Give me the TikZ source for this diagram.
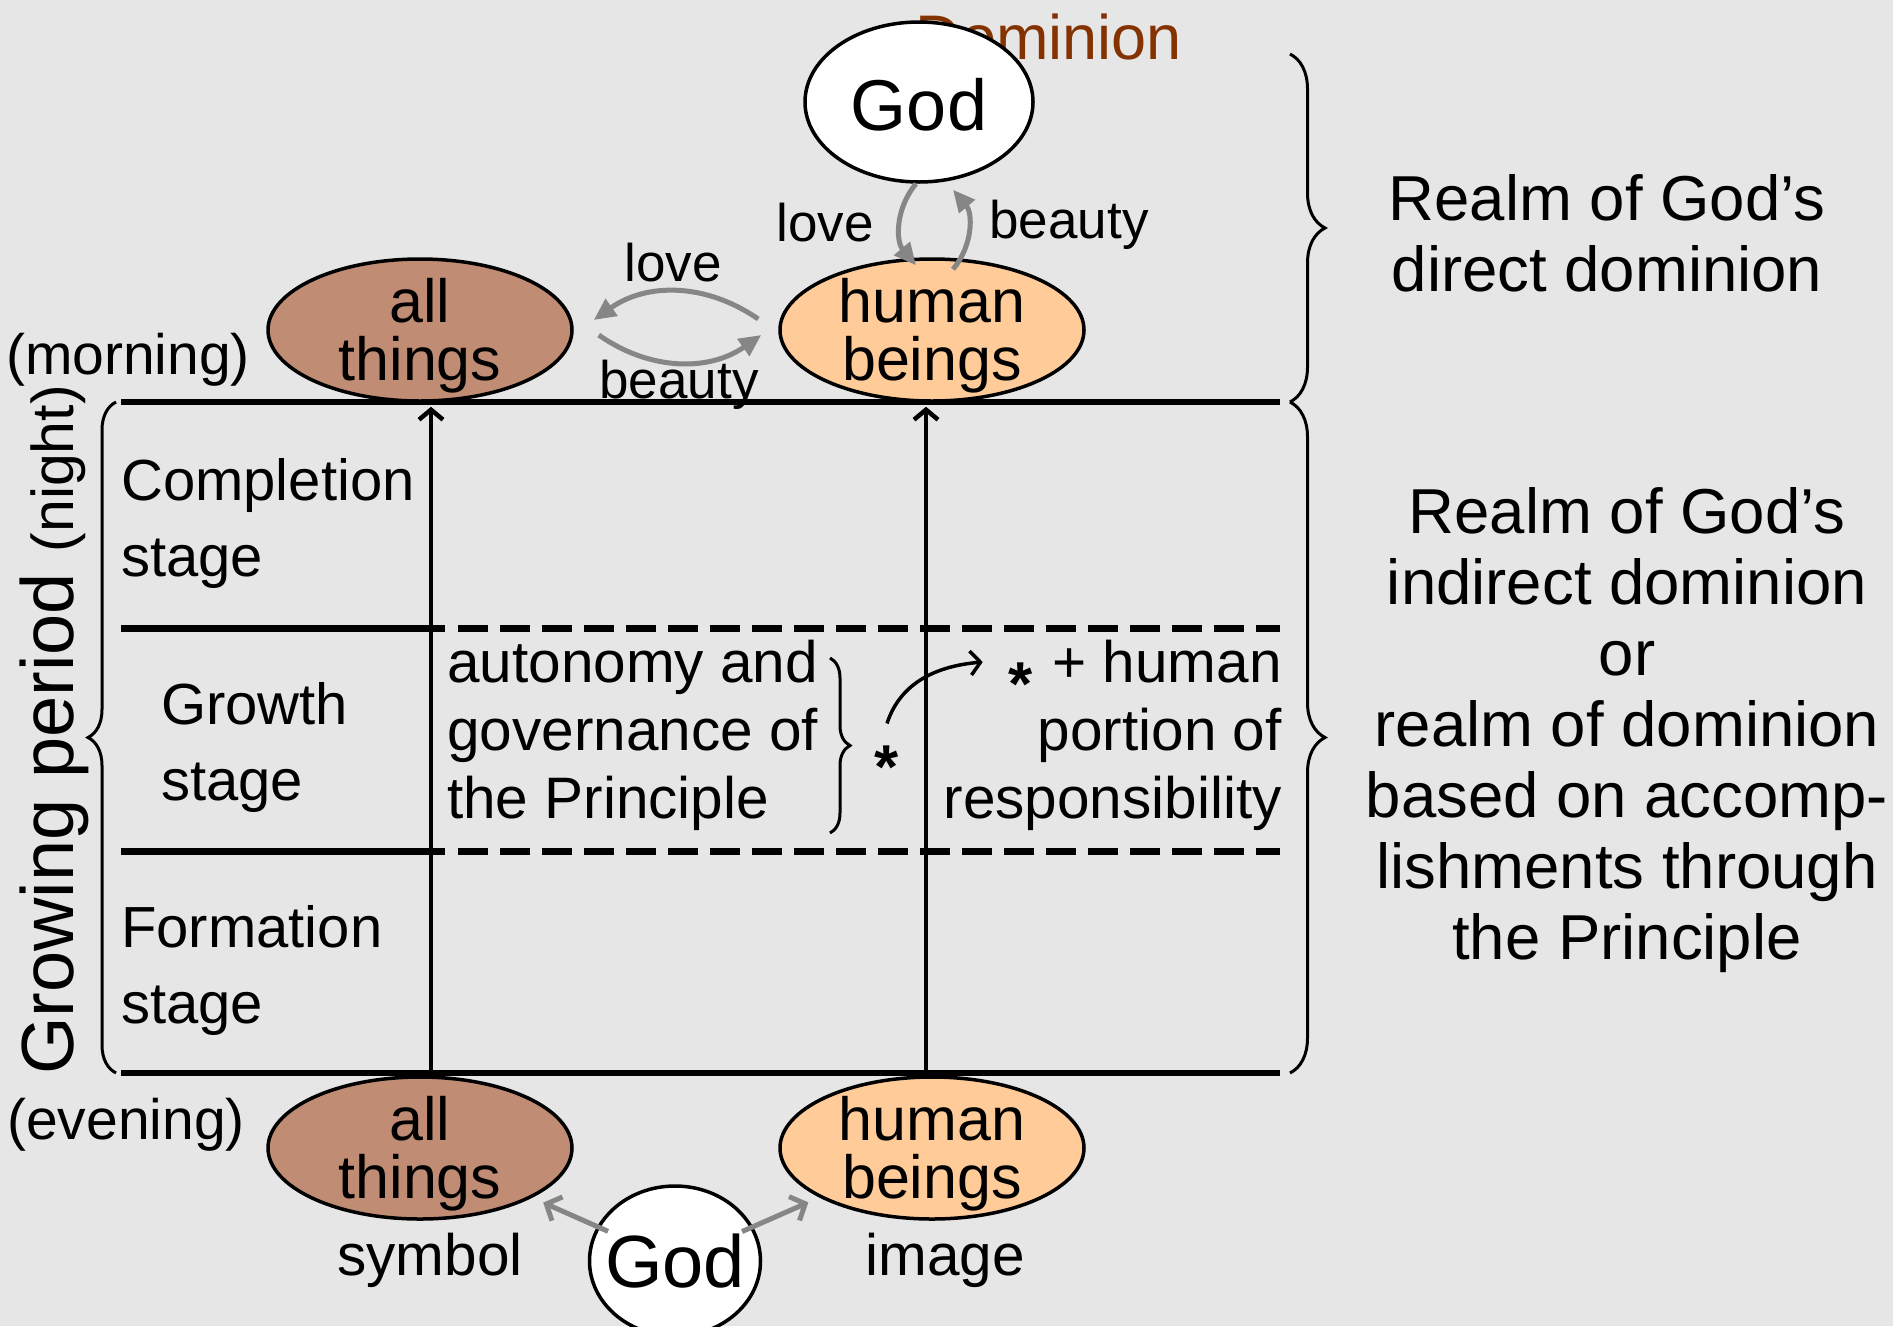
\documentclass[tikz,border=0pt]{standalone}
\usepackage{fontspec}
\setmainfont{Liberation Sans}
\usetikzlibrary{arrows.meta, decorations.pathreplacing, positioning, shapes.geometric}
\definecolor{bggrey}{HTML}{E6E6E6}
\definecolor{thingbrown}{HTML}{C18C74}
\definecolor{humanpeach}{HTML}{FFCC99}
\definecolor{flowgrey}{HTML}{868686}
\definecolor{dombrown}{HTML}{843200}
\newcommand{\setsz}[2]{\fontsize{#1pt}{#2pt}\selectfont}

\begin{document}
\begin{tikzpicture}[x=1pt, y=-1pt,
  blob/.style={ellipse, draw=black, line width=3.5pt, inner sep=0pt, minimum width=304pt, minimum height=142pt},
  blobtext/.style={align=center, inner sep=0pt, font=\setsz{61}{58}},
  godblob/.style={ellipse, draw=black, fill=white, line width=3.5pt, inner sep=0pt},
  flow/.style={line width=5pt, color=flowgrey, -{Triangle[length=22pt,width=20pt]}},
  gift/.style={line width=5pt, color=flowgrey, -{Straight Barb[length=12pt,width=26pt]}, shorten >=12pt, shorten <=-12pt},
  rise/.style={line width=4.5pt, -{Straight Barb[length=10pt,width=24pt]}},
  stageline/.style={line width=7pt},
  stagetext/.style={align=left, anchor=west, inner sep=0pt, font=\setsz{58}{76}},
  midtext/.style={inner sep=0pt, font=\setsz{58.5}{68}},
  starmark/.style={inner sep=0pt, font=\setsz{62}{62}\bfseries},
  realm/.style={align=center, inner sep=0pt, font=\setsz{63.5}{71}},
  small/.style={inner sep=0pt, font=\setsz{53}{60}},
  bigbrace/.style={decorate, decoration={brace, amplitude=#1}, line width=3pt}
]
\useasboundingbox (0,0) rectangle (1893,1326);
\fill[bggrey] (0,0) rectangle (1893,1326);

\draw[stageline, line width=6pt] (121,402) -- (1280,402);
\draw[stageline, line width=6pt] (121,1073) -- (1280,1073);
\draw[stageline] (121,628) -- (445,628);
\draw[stageline, dash pattern=on 30pt off 12pt] (458,628) -- (1280,628);
\draw[stageline] (121,851) -- (445,851);
\draw[stageline, dash pattern=on 30pt off 12pt] (458,851) -- (1280,851);

\node[inner sep=0pt, font=\setsz{63}{70}, text=dombrown] (dom) at (1049,37) {Dominion};
\node[godblob, minimum width=228pt, minimum height=160pt] (god1) at (919,102) {};
\node[inner sep=0pt, font=\setsz{72}{80}] (god1l) at (919,105) {God};

\node[blob, fill=thingbrown] (tat) at (420,330) {};
\node[blobtext] (tatl) at (420,336) {all\\things};
\node[blob, fill=humanpeach] (thb) at (932,330) {};
\node[blobtext] (thbl) at (932,336) {human\\beings};

\node[blob, fill=thingbrown] (bat) at (420,1148) {};
\node[blobtext] (batl) at (420,1154) {all\\things};
\node[blob, fill=humanpeach] (bhb) at (932,1148) {};
\node[blobtext] (bhbl) at (932,1154) {human\\beings};

\node[godblob, minimum width=171pt, minimum height=150pt] (god2) at (675,1261) {};
\node[inner sep=0pt, font=\setsz{74}{80}] (god2l) at (675,1261) {God};

\draw[flow] ([xshift=-3pt]god1.south) to[bend right=40] ([xshift=-16pt,yshift=-8pt]thb.north);
\draw[flow] ([xshift=21pt,yshift=-12pt]thb.north) to[bend right=40] ([xshift=34pt,yshift=-6pt]god1.south);
\draw[flow] ([xshift=-20pt,yshift=11pt]thb.west) to[bend right=35] ([xshift=20pt,yshift=10pt]tat.east);
\draw[flow] ([xshift=25pt,yshift=-5pt]tat.east) to[bend right=35] ([xshift=-17pt,yshift=-5pt]thb.west);
\node[small] (love1) at (825,223) {love};
\node[small] (beauty1) at (1069,225) {beauty};
\node[small] (love2) at (673,263) {love};
\node[small] (beauty2) at (679,385) {beauty};

\draw[gift] (god2) -- (bat);
\draw[gift] (god2) -- (bhb);
\node[midtext] (symbol) at (430,1260) {symbol};
\node[midtext] (image) at (945,1260) {image};

\draw[rise] ([xshift=11pt]bat.north) -- ([xshift=11pt,yshift=-4pt]tat.south);
\draw[rise] ([xshift=-6pt]bhb.north) -- ([xshift=-6pt,yshift=-4pt]thb.south);

\node[midtext, font=\setsz{57}{60}] (morning) at (128,360) {(morning)};
\node[midtext, font=\setsz{57}{60}] (evening) at (126,1125) {(evening)};
\node[inner sep=0pt, rotate=90] (growing) at (54,730) {\setsz{74}{80}Growing period \setsz{59}{60}(night)};
\draw[bigbrace=28pt] (116,1073) -- (116,402);

\node[stagetext] (completion) at (121,523) {Completion\\stage};
\node[stagetext] (growth) at (161,747) {Growth\\stage};
\node[stagetext] (formation) at (121,970) {Formation\\stage};

\node[midtext, align=left, anchor=west] (autonomy) at (447,735) {autonomy and\\governance of\\the Principle};
\draw[bigbrace=20pt] (830,658) -- (830,833);
\node[starmark] (star) at (887,767) {*};
\node[midtext, align=right, anchor=east] (portion) at (1282,735) {+ human\\portion of\\responsibility};
\node[starmark] (starb) at (1021,684) {*};
\draw[rise, line width=3.5pt] ([yshift=22pt]star.north) to[out=72,in=185] ([xshift=-26pt,yshift=22pt]starb.west);

\draw[bigbrace=35pt] (1290,54) -- (1290,402);
\draw[bigbrace=35pt] (1290,402) -- (1290,1073);
\node[realm] (direct) at (1607,233) {Realm of God’s\\direct dominion};
\node[realm] (indirect) at (1627,730) {Realm of God’s\\indirect dominion\\or\\realm of dominion\\based on accomp-\\lishments through\\the Principle};
\end{tikzpicture}
\end{document}
